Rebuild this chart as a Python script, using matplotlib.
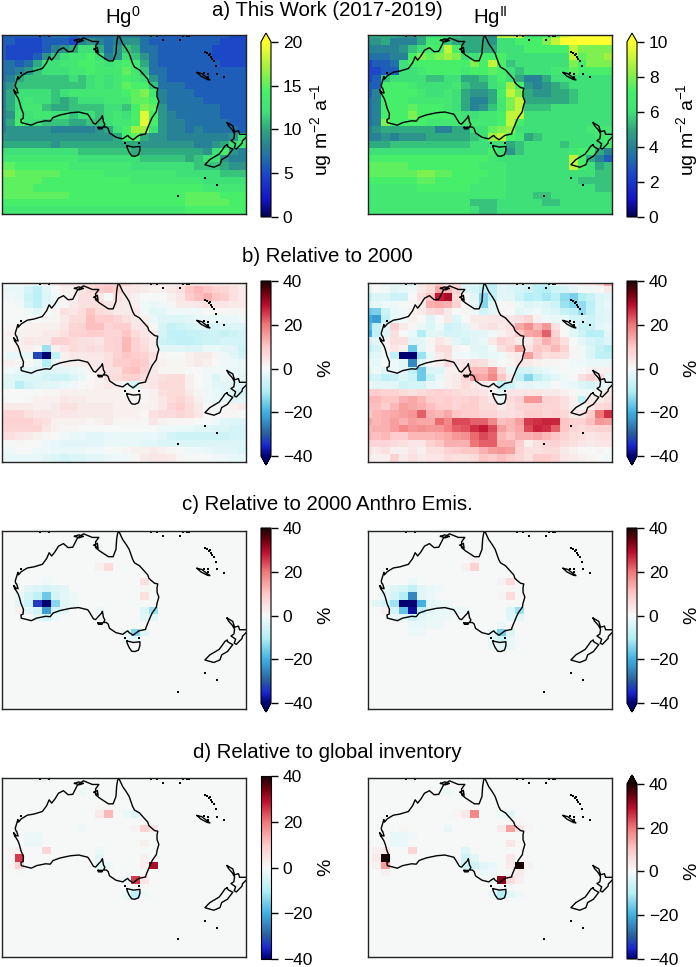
import numpy as np
import matplotlib
matplotlib.use("Agg")
import matplotlib.pyplot as plt
from matplotlib.colors import LinearSegmentedColormap

plt.rcParams['font.family'] = ['Liberation Sans', 'DejaVu Sans']
plt.rcParams['mathtext.fontset'] = 'custom'
plt.rcParams['mathtext.rm'] = 'Liberation Sans'
plt.rcParams['mathtext.default'] = 'regular'

# this work, Hg0 deposition, one row per 2 degree latitude band
hg0_total = [
    [6,6,6,6,6,6,7,7,6,7,7,7,7,8,8,8,7,7,6,6,6,6,6,6,6,6,5,5],
    [6,6,5,5,5,6,6,6,5,8,9,8,7,8,9,9,7,6,6,6,6,6,6,6,6,5,5,5],
    [6,5,5,5,5,6,8,9,10,12,12,10,7,9,11,10,7,7,6,6,6,6,6,6,5,5,5,5],
    [6,5,5,5,6,9,11,12,13,13,14,12,8,9,12,11,9,7,6,6,6,6,6,6,5,5,5,5],
    [7,7,6,7,10,12,12,13,13,14,14,13,12,13,14,13,10,7,6,6,6,6,6,6,6,5,5,5],
    [7,7,8,9,11,12,12,12,13,13,14,13,13,13,15,13,11,7,7,6,6,6,6,6,6,6,6,6],
    [7,8,10,11,11,11,11,11,12,11,12,13,12,13,14,13,12,9,7,6,6,6,6,6,6,6,6,6],
    [8,9,11,11,11,11,11,11,11,11,12,13,12,13,15,14,14,11,7,7,7,6,6,6,6,6,6,6],
    [8,10,12,12,12,12,11,12,13,13,13,13,13,13,14,15,16,13,8,7,7,7,6,6,6,6,6,6],
    [8,10,12,13,12,12,11,10,11,12,12,12,13,13,13,15,15,14,8,7,7,7,7,6,6,6,6,6],
    [8,10,12,13,13,11,10,10,11,11,11,11,12,12,11,14,16,15,9,7,7,7,7,7,7,6,6,6],
    [8,9,13,12,13,13,12,12,11,12,12,11,12,13,12,14,19,14,9,8,7,7,7,7,7,6,6,6],
    [8,10,14,12,12,11,11,11,10,10,11,11,12,13,13,14,19,14,9,8,8,7,7,7,7,7,6,6],
    [8,9,9,9,9,9,8,8,8,8,8,9,10,12,14,17,17,12,9,8,8,7,8,7,7,7,7,6],
    [9,9,9,9,9,9,9,9,9,9,9,9,9,10,14,15,10,9,9,8,8,8,8,8,8,8,9,12],
    [10,10,10,10,10,10,9,10,10,10,10,10,10,10,10,10,9,9,9,9,9,9,8,8,9,10,12,13],
    [12,12,12,12,12,12,12,12,12,11,11,11,11,11,11,10,10,10,10,10,10,10,10,9,12,14,9,8],
    [13,13,13,13,13,13,13,13,13,12,12,12,12,12,12,12,11,11,11,11,11,10,11,12,12,9,8,8],
    [15,15,14,14,14,14,14,14,13,13,13,13,13,13,13,12,12,12,12,12,12,12,11,11,11,10,9,9],
    [16,16,15,15,15,15,15,14,14,14,14,14,13,13,13,13,13,13,13,13,12,12,12,12,12,11,11,11],
    [15,15,15,15,15,14,14,14,14,14,14,14,14,14,14,13,13,13,13,13,13,13,13,12,12,12,12,12],
    [15,15,15,15,14,14,14,14,14,14,14,14,14,14,14,14,14,14,14,14,14,14,14,13,13,13,13,13],
    [15,15,15,15,15,15,15,15,14,14,14,14,14,14,14,14,14,14,14,14,14,15,15,15,15,14,14,14],
    [14,14,14,14,14,14,14,14,14,14,14,14,14,14,14,14,14,14,14,14,14,15,15,15,15,15,14,14],
    [13,13,13,13,13,13,13,13,13,13,13,13,13,13,13,13,13,13,13,13,13,14,14,14,14,14,14,14],
]

hg2_total = [
    [5,5,5,5,4.5,4.5,5,6,6,6,5.5,5,5,5,4.5,9,9,9,6.5,6.5,7,8,9.5,10,10,10,10,10],
    [4.5,4.5,5,4,4,4,5,6.5,6.5,5.5,5,5,5,5,4.5,6,6,7,7,7,8,9,10,10,10,10,10,10],
    [4,4,4,4,4.5,5.5,6,7,7,9,7,5,5,5,5,6,6,6,7,7,7,7,7,9,8,8,8,8],
    [3.5,3.5,3.5,4,4,7,8,7.5,8,8.5,8,6,6,7,7,7,6,6,6,6,6,6,6,9,7.5,8,8,8.5],
    [2.5,3,3,3.5,6,7,7,7,7,7,7,7,8,7,9,7,5.5,6,6,6,6,6,6,8,7,8,8,8],
    [2.5,2.5,3,3,6,6,6.5,7,7,7,7,6.5,7,7,7.5,7,6,5.5,6,6,6,6.5,6.5,7.5,7,7,7,7],
    [2.5,3,5.5,6,6,6,6,5.5,5.5,6,6,5,5,5.5,6,7,6,5,4,4,5,6,6,6,6,6,6,6],
    [3,3,7,7,7,6.5,6,6,6,6,6.5,5.5,5,5,6,6.5,8.5,7,4.5,4,4.5,5,5.5,6,6,6,6,6],
    [3,4,7,7,7,7,6.5,6,6,6.5,6,5,4.5,4.5,5,7,9,8,5,4.5,4.5,5,5,5.5,6,6,6,6],
    [3.5,4,7,7,7,6.5,6.5,6.5,6.5,6.5,6,5,4,4,5,6.5,8,9,5,5,5,5,5,5.5,6,6,6,6],
    [3.5,4,7,7,7,7.5,7,7,7,6.5,6,5,4,4.5,5.5,6.5,8,9,5.5,5.5,5.5,6,6,6,6,6,6,6],
    [3.5,4,7,7,7,8,7,7,7,7,6.5,6,6,6.5,6.5,7,9,9,6,6,6,6,6,6,6,6,6,6],
    [3.5,4,8,7,7,7,7,6.5,6.5,6.5,6.5,6.5,6.5,6.5,6.5,7,9,7,6,6,6,6,6,6,6,6,6,6],
    [4,4.5,5,5,5,5,5,5,4,4,5,5,6,6,7.5,8,8.5,6,6,6,6,6,6,6,6,6.5,6.5,6.5],
    [4,4,4.5,4,4.5,4.5,4.5,5,5,5,5,5,5.5,6,8.5,9,7,6.5,5,5.5,6,6,6,6,6,6,6.5,7],
    [5,5,5,5.5,5.5,5.5,5.5,5.5,5.5,5.5,5.5,5.5,6,6,6,6,5,5.5,6,6,6,6,5.5,6,6,6,6,7],
    [6,6,6,6,6,6,6,6,6,6,6,6,6,6,7,6,4.5,5.5,6,6,6,6,6,6.5,7,7,5,4],
    [7,7,7,7,7,7,7,7,7,7,7,7,7,7,6.5,6,6,6,6,6,6,6,6,9,7,5,4,3],
    [7.5,7.5,7.5,7.5,7.5,7,7,7,7,7,7,7,7,6.5,6.5,6.5,6,6,6,6,6,6,6,9,7,6,5,5.5],
    [7.5,7.5,7.5,7.5,7.5,7.5,8,8,7.5,7.5,7,7,7,7,6.5,6.5,6,6,6,6,6,6,6,6,6,6,5.5,5.5],
    [7,7,7,7,7,7,7.5,7.5,7,7,7,7,7,6.5,6.5,6.5,6,6,6,6,6,6,6,6,5.5,5.5,5.5,5.5],
    [6.5,6.5,6.5,6.5,6.5,6.5,7,7,7,7,7,7,6.5,6.5,6.5,6.5,6,6,6,6,6,6,6,6,6,6,5.5,5.5],
    [6.5,6.5,6.5,6.5,6.5,6.5,6.5,6.5,6.5,6.5,6.5,6.5,6.5,6.5,6.5,6.5,6,6,6,5.5,5.5,6,6,6,6,6,6,6],
    [6.5,6.5,6.5,6.5,6.5,6.5,6.5,6.5,6.5,6.5,6.5,6.5,5.5,5.5,5.5,6,6,6,6,6,5.5,5.5,6,6,6,6,6,6],
    [6.5,6.5,6.5,6.5,6.5,6.5,6.5,6.5,6.5,6.5,6.5,6.5,6,5.5,5.5,6,6,6,6,6,6,6,6,6,6,6,6,6],
]

# change relative to 2000 (%)
hg0_vs_2000 = [
    [0,0,0,0,-1,0,3,5,5,5,5,7,8,8,7,4,3,3,3,3,3,4,4,4,3,3,3,3],
    [-2,-2,-2,-5,-8,-3,0,2,2,4,6,9,10,8,4,4,3,2,2,3,5,10,12,10,8,7,5,3],
    [-1,-1,-2,-6,-9,-4,-1,1,2,5,5,4,0,5,3,2,0,0,0,2,4,9,11,13,10,9,5,3],
    [0,0,-1,-5,-8,-3,-1,1,3,5,5,5,4,4,3,2,-1,-2,-1,1,3,3,4,5,4,4,3,3],
    [0,0,0,-1,-3,0,1,5,4,6,10,6,5,3,3,3,-1,-3,-3,-1,-1,-1,-1,0,1,1,1,1],
    [0,0,0,0,0,1,1,3,6,6,11,9,9,7,5,3,2,-2,-4,-4,-4,-3,-2,-2,-2,-2,-2,-1],
    [0,1,1,2,2,2,2,4,7,8,11,11,7,9,9,4,4,1,-5,-7,-6,-5,-4,-5,-5,-4,-4,-4],
    [1,2,2,2,2,3,3,5,8,8,9,9,7,7,10,6,4,3,-5,-8,-8,-7,-7,-6,-6,-7,-6,-5],
    [1,1,2,4,3,3,8,8,6,5,5,4,7,8,12,8,5,3,-6,-7,-8,-8,-7,-6,-6,-5,-5,-5],
    [1,1,2,2,1,-12,2,4,6,5,6,5,7,8,12,8,6,3,-3,-3,-3,-4,-4,-2,-2,-3,-3,-6],
    [0,-2,-2,-2,-32,-40,-8,2,4,3,4,4,5,8,10,9,8,5,1,0,0,2,3,3,1,-1,-3,-5],
    [2,2,1,0,-2,-10,-2,2,2,2,3,3,5,9,9,10,9,4,2,1,1,2,3,2,0,-1,-1,-2],
    [-1,-1,-2,-3,-3,-4,-3,-3,-2,-1,1,3,5,5,10,11,8,3,1,1,1,0,0,-1,-1,-1,-2,-2],
    [-3,-3,-4,-4,-4,-5,-6,-6,-4,-2,0,2,5,6,8,8,6,4,5,6,6,2,0,-1,-4,-2,-1,-3],
    [-4,-3,-9,-5,-4,-3,-3,-2,-1,0,1,2,3,2,-1,-5,3,4,6,6,6,2,0,-1,-3,-3,-3,-4],
    [0,0,0,0,0,1,1,2,2,2,2,2,2,2,1,1,1,2,5,6,6,3,1,-1,-2,-3,-4,-5],
    [1,0,0,1,2,2,2,4,3,3,2,2,2,2,2,1,1,2,4,6,7,5,2,-1,-2,-2,-3,-3],
    [3,3,3,3,2,2,3,5,5,3,3,3,3,2,2,2,2,2,4,7,9,6,3,0,-1,0,2,3],
    [7,7,7,5,4,4,3,4,4,3,3,3,3,2,2,2,1,5,6,6,7,6,4,0,0,1,1,0],
    [8,8,8,8,6,5,2,2,2,2,1,2,3,1,1,1,1,4,2,1,1,1,0,0,-1,-3,-4,-4],
    [7,7,7,7,7,4,2,1,1,0,0,0,0,0,0,0,0,0,-1,-1,-2,-2,-3,-3,-4,-4,-5,-5],
    [5,5,4,3,2,1,0,-1,-2,-2,-3,-3,-2,-2,-2,-2,-2,-2,-3,-5,-6,-6,-6,-6,-6,-6,-5,-5],
    [0,0,1,0,0,-1,-2,-3,-3,-3,-3,-3,-2,-2,-2,-2,-3,-3,-4,-4,-4,-4,-4,-4,-4,-4,-4,-4],
    [-1,-1,0,0,-1,-1,-2,-2,-2,-2,-1,-1,0,0,1,2,2,3,2,1,0,-1,-1,-2,-3,-3,-3,-4],
    [-2,-2,-2,-2,-2,-3,-4,-5,-4,-4,-3,-3,-2,-1,-1,1,3,4,4,3,1,0,0,0,-1,-1,-2,-2],
]

hg2_vs_2000 = [
    [0,0,-2,-2,-3,-3,3,5,8,5,5,-3,-3,-6,-7,-2,-3,-3,-4,-7,-7,-2,0,0,2,3,5,14],
    [-3,0,-1,-3,-2,-1,3,6,14,12,8,-4,-5,-8,-8,-3,-4,-5,-6,-9,-10,-6,-5,-3,-1,-1,1,3],
    [-7,-4,-4,-6,-6,0,5,10,28,30,6,0,-3,-14,-8,-3,-3,-6,-10,-9,-11,-9,-13,-15,-10,-7,-4,-3],
    [-4,-2,-1,-1,0,1,3,13,14,13,8,0,-2,-14,-3,0,1,-2,-4,-3,-4,-6,-12,-14,-13,-9,-4,-2],
    [-16,-15,-6,-2,-1,2,3,6,7,3,0,1,-1,-5,-3,1,0,-3,-2,-1,-3,-4,-7,-9,-13,-8,-4,-3],
    [-20,-22,-8,-2,-1,2,0,-4,0,3,-4,0,3,3,4,4,4,5,8,2,-1,-2,-2,-5,-5,-6,-4,-3],
    [-18,-8,-3,8,3,1,-2,-4,-1,-6,-5,-3,2,4,5,3,5,14,17,12,16,5,0,-3,-7,-7,-3,-2],
    [-20,-8,-3,5,0,-2,-10,-3,-3,-5,-5,-4,-3,-3,-1,2,4,10,14,15,22,8,0,-3,-6,-10,-9,-3],
    [-5,-3,1,5,5,-3,-3,1,4,2,-3,-5,-3,-2,3,8,6,3,3,8,13,10,5,0,-3,-5,-6,-4],
    [-8,-5,0,4,2,-16,-3,1,6,6,1,0,-3,-3,-1,5,8,15,5,10,9,12,8,1,-1,-4,-7,-10],
    [-4,-3,-1,-8,-40,-40,-12,-2,3,5,-1,-1,-2,-3,-2,-1,2,3,15,9,5,6,5,1,-1,-4,-8,-8],
    [-1,-2,0,-1,-3,-25,-3,0,2,6,3,4,6,5,2,0,1,4,3,2,1,1,0,-1,-1,-2,-2,-2],
    [-3,-1,-3,-1,-3,-8,-16,-4,-4,2,2,5,12,12,16,6,-2,-6,-5,-3,-2,-1,0,0,0,2,2,2],
    [-6,-5,-8,-7,-4,-6,-16,-7,-2,2,3,7,15,14,18,10,3,-8,-14,-9,-5,-3,-1,0,5,8,6,-2],
    [-1,-3,-3,-3,-6,-5,-5,-2,-1,2,3,6,4,3,2,-8,-6,-2,-3,-2,-2,0,-1,-2,-4,-5,-3,-2],
    [9,9,8,8,6,5,6,7,8,7,6,5,5,4,2,-3,4,4,4,4,3,3,2,1,-1,-1,0,3],
    [12,12,10,10,13,14,12,9,8,9,7,8,9,6,4,-2,6,8,16,16,8,7,5,2,-8,3,3,5],
    [11,11,9,12,15,14,13,11,9,9,7,9,9,6,6,3,5,7,8,8,7,7,5,2,1,3,6,7],
    [10,12,13,14,15,16,22,13,12,14,10,9,9,7,7,5,5,6,9,9,7,8,7,3,4,9,20,26],
    [14,12,13,15,13,15,14,14,21,18,24,24,22,22,18,11,12,15,25,26,27,27,10,8,8,11,16,15],
    [12,13,13,15,18,16,17,16,16,19,22,23,26,28,24,15,12,14,24,27,26,22,10,7,6,7,8,8],
    [12,11,12,9,9,12,12,12,13,14,16,17,21,24,22,12,10,13,13,14,12,10,8,6,5,4,5,5],
    [8,7,7,6,5,4,4,8,10,13,13,13,20,22,22,13,13,9,2,5,7,8,6,5,4,3,4,4],
    [5,3,5,2,2,4,2,5,5,8,9,10,10,13,15,16,15,8,5,5,6,6,3,2,0,0,1,0],
    [3,2,2,8,3,5,3,4,4,6,5,5,6,10,9,11,9,7,5,9,9,7,4,3,2,1,0,-1],
]

# panels c and d are flat apart from a few cells: (row, column, percent)
background = 0.0
hg0_anthro = [
    (5,11,2),(5,12,6),(7,16,5),(8,16,1),(9,16,5),(7,5,-1),
    (8,3,-3),(8,4,-4),(8,5,-5),(8,6,-4),(8,7,-3),
    (9,2,-2),(9,3,-5),(9,4,-8),(9,5,-16),(9,6,-5),(9,7,-3),(9,8,-1.5),
    (10,2,-3),(10,3,-6),(10,4,-33),(10,5,-40),(10,6,-14),(10,7,-3),(10,8,-2),
    (11,2,2),(11,3,-3),(11,4,-5),(11,5,-22),(11,6,-5),(11,7,-3),(11,11,-1.5),
    (11,16,-4),(11,17,-12),(12,16,-3),(12,17,-3),
    (12,4,-3),(12,5,-5),(12,6,-2),
    (14,14,-1.5),(14,15,-14),(14,16,-3),(15,14,-2),(15,15,-2),
]
hg2_anthro = [
    (4,12,1.5),(5,11,2),(5,12,8),(7,15,1.5),(7,16,6),(8,16,1),(9,15,1),(9,16,6),(7,5,-2),
    (8,2,-2),(8,3,-4),(8,4,-5),(8,5,-8),(8,6,-3),(8,7,-2),(8,8,-1),
    (9,2,-3),(9,3,-5),(9,4,-10),(9,5,-25),(9,6,-3),(9,7,-2),
    (10,1,-3),(10,2,-5),(10,3,-12),(10,4,-40),(10,5,-40),(10,6,-20),(10,7,-3),(10,8,-2),(10,9,-1.5),
    (11,2,2),(11,3,-5),(11,4,-17),(11,5,-38),(11,6,-8),(11,7,-3),(11,8,-2),(11,9,-2),(11,10,-2),(11,11,-1.5),
    (12,3,-2),(12,4,-2),(12,5,-6),(12,6,-3),(12,7,-2),(12,8,-1.5),(12,9,-1.5),
    (13,5,-2),(13,6,-2),(13,7,-1.5),(13,8,-1.5),(14,5,-1.5),(14,6,-1.5),
    (11,16,-4),(11,17,-12),(12,16,-3),(12,17,-3),
    (13,15,-1.5),(14,14,-2),(14,15,-15),(14,16,-4),
    (15,14,-3),(15,15,-6),(15,16,-2),(16,14,-2),(16,15,-3),(16,16,-2),
]
hg0_inventory = [
    (2,9,-1.5),(4,11,1),(4,12,1),(5,11,3),(5,12,12),(5,14,-1.5),(5,15,-3),
    (7,9,-1),(7,15,1.5),(7,16,8),(7,17,4),(8,3,-1.5),(8,4,-1.5),(9,3,-1.5),(9,4,-1.5),(9,16,2),
    (10,1,1),(10,2,2),(10,5,7),(10,11,-1.5),
    (11,1,1),(11,2,25),(11,11,-3),(11,16,2),
    (12,1,1),(12,2,8),(12,11,-4),(12,12,-2),(12,16,2),(12,17,30),(13,2,1),
    (14,14,-2),(14,15,25),(14,16,4),(16,14,-2),(16,15,-8),(16,16,-1),
]
hg2_inventory = [
    (2,9,-1.5),(4,12,1),(5,10,1),(5,11,3),(5,12,18),(5,15,-1.5),(5,16,-3),
    (6,16,1),(6,17,1),(7,4,1),(7,9,-2),(7,15,3),(7,16,15),(7,17,4),(7,18,1),
    (8,3,-2),(8,4,-2),(8,5,-1),(9,3,-2),(9,4,-2),(9,16,4),
    (10,1,2),(10,2,3),(10,5,7),(10,11,-4),
    (11,1,3),(11,2,45),(11,11,-6),(11,12,-3),(11,16,4),
    (12,1,2),(12,2,15),(12,11,-6),(12,12,-6),(12,13,-3),(12,14,-2),(12,16,3),(12,17,45),(12,18,1.5),
    (13,2,2),(13,13,-2),(13,14,-1.5),(13,16,1),(13,17,3),
    (14,14,-1.5),(14,15,32),(14,16,6),(14,17,2),
    (16,14,-2),(16,15,-10),(16,16,-3),(16,17,-1),
]

# coastlines, lon / lat
australia_lon = [142.5,143.5,144.5,145.3,145.8,146.3,146.8,148.2,149.2,150.5,150.8,151.3,152.4,153.3,153.1,153.1,153.6,153.1,152.9,151.8,151.3,150.8,150.0,149.9,148.0,146.4,145.3,144.9,144.4,143.5,141.6,139.8,139.4,138.9,138.1,138.5,138.1,137.8,137.6,136.9,135.9,135.3,134.2,133.7,131.2,128.9,126.0,124.0,123.2,121.9,119.4,117.9,115.1,115.0,115.6,115.7,115.0,114.6,114.2,113.2,114.2,113.8,113.6,113.4,114.15,114.3,115.1,116.8,118.6,121.0,122.2,122.9,123.6,124.5,125.5,126.9,128.2,129.5,130.8,132.5,135.0,136.8,135.9,135.9,137.0,139.5,140.8,141.6,141.8,142.1,142.5]
australia_lat = [-10.7,-12.8,-14.2,-15.5,-16.9,-18.3,-19.2,-20.0,-21.1,-22.5,-23.4,-23.9,-24.8,-25.0,-26.0,-27.3,-28.6,-30.3,-31.4,-32.9,-33.9,-35.1,-37.0,-37.5,-37.9,-39.1,-38.4,-37.9,-38.2,-38.85,-38.4,-37.2,-36.0,-35.6,-35.6,-34.9,-34.2,-32.5,-33.0,-33.7,-34.8,-34.6,-32.8,-32.1,-31.5,-31.7,-32.3,-33.0,-34.0,-33.9,-34.4,-35.1,-34.4,-33.55,-33.3,-32.0,-30.3,-28.8,-27.7,-26.1,-26.3,-25.0,-24.9,-24.2,-21.8,-22.5,-21.6,-20.6,-20.3,-19.6,-18.0,-16.4,-17.3,-16.2,-14.6,-13.9,-15.0,-14.9,-12.4,-11.2,-12.2,-12.2,-13.4,-15.0,-15.9,-17.5,-17.5,-15.5,-12.6,-10.9,-10.7]
tasmania_lon = [144.7,146.5,148.3,148.3,147.9,146.9,146.0,145.3,144.7,144.7]
tasmania_lat = [-40.7,-41.1,-40.9,-42.0,-43.2,-43.6,-43.5,-42.5,-41.2,-40.7]
nz_south_lon = [172.7,173.0,174.3,172.8,171.2,170.7,169.0,167.5,166.5,167.9,170.5,171.4,172.1,172.7]
nz_south_lat = [-40.5,-41.0,-41.7,-43.6,-44.5,-45.9,-46.6,-46.2,-45.9,-44.5,-43.0,-41.8,-40.8,-40.5]
nz_north_lon = [172.7,174.3,174.8,175.9,176.2,178.0,178.4,177.0,176.9,175.3,174.7,175.1,173.8,174.6,174.8,174.2,173.1,172.7]
nz_north_lat = [-34.4,-35.3,-36.9,-36.6,-37.6,-37.6,-38.0,-39.4,-40.0,-41.6,-41.3,-40.2,-39.3,-38.8,-37.5,-36.4,-35.2,-34.4]
new_caledonia_lon = [164.3,165.6,167.9,167.2,165.4,164.3]
new_caledonia_lat = [-20.7,-21.0,-22.7,-22.6,-21.7,-20.7]
melville_lon = [130.0,131.2,132.5,131.4,130.0]
melville_lat = [-11.9,-11.5,-11.9,-12.3,-11.9]
groote_lon = [135.5,136.4,136.6,135.5]
groote_lat = [-14.3,-13.8,-15.2,-14.3]
kangaroo_lon = [136.6,137.9,137.7,136.7,136.6]
kangaroo_lat = [-35.7,-35.7,-36.1,-36.1,-35.7]
dirk_hartog_lon = [113.0,113.5,113.3,113.0]
dirk_hartog_lat = [-25.5,-26.0,-26.4,-25.5]
small_island_lon = [120.3,122.8,124.0,148.7,151.5,153.0,154.8,159.5,160.5,161.5,162.0,166.6,167.2,167.6,168.0,168.3,168.6,169.0,169.6,166.3,167.3,167.3,171.9,166.6,170.0,159.0,144.2,148.0,115.0,170.0]
small_island_lat = [-10.6,-10.7,-10.4,-10.5,-10.6,-10.7,-11.7,-11.7,-10.6,-10.6,-10.8,-15.0,-15.4,-16.0,-15.6,-16.5,-16.9,-17.6,-18.9,-20.9,-21.0,-21.8,-21.9,-49.6,-51.5,-54.6,-39.9,-40.0,-20.8,-21.0]

lon_edges = 108.35 + 2.5 * np.arange(29)
lat_edges = -9.3 - 2.0 * np.arange(26)
map_lon_lim = (109.7, 178.0)
map_lat_lim = (-59.4, -10.43)

deposition_cmap = LinearSegmentedColormap.from_list("deposition", [
    (0.0, "#00004d"), (0.1, "#1414c8"), (0.25, "#1c48c8"), (0.32, "#1f68b0"),
    (0.42, "#2a8890"), (0.5, "#2fa880"), (0.6, "#40e078"), (0.72, "#48f068"),
    (0.85, "#a0f040"), (1.0, "#ffff30")])
change_cmap = LinearSegmentedColormap.from_list("change", [
    (0.0, "#000070"), (0.06, "#1b27d0"), (0.13, "#2a60a0"), (0.25, "#40b0e0"),
    (0.37, "#b0eef5"), (0.5, "#f6f9f9"), (0.625, "#ffc8c8"), (0.75, "#f07878"),
    (0.86, "#c01030"), (0.93, "#700010"), (1.0, "#1a0505")])

W, H = 699.0, 967.0


def add_box(x0, y0, x1, y1):
    """
    axes from pixel box measured from the top left of the figure
    """
    return fig.add_axes([x0 / W, 1 - y1 / H, (x1 - x0) / W, (y1 - y0) / H])


def sparse_grid(cells):
    """
    flat grid with the listed cells filled in
    :param cells: list of (row, column, value)
    :return: 2d array
    """
    grid = np.full((len(lat_edges) - 1, len(lon_edges) - 1), background)
    for r, c, v in cells:
        grid[r, c] = v
    return grid


def draw_coast(ax):
    for lon, lat in [(australia_lon, australia_lat), (tasmania_lon, tasmania_lat),
                     (nz_south_lon, nz_south_lat), (nz_north_lon, nz_north_lat),
                     (new_caledonia_lon, new_caledonia_lat), (melville_lon, melville_lat),
                     (groote_lon, groote_lat), (kangaroo_lon, kangaroo_lat),
                     (dirk_hartog_lon, dirk_hartog_lat)]:
        ax.plot(lon, lat, color="black", lw=1.0)
    ax.plot(small_island_lon, small_island_lat, ls="none", marker="s", ms=1.6,
            color="black", mew=0)


def draw_panel(box, cbar_box, grid, cmap, vmin, vmax, ticks, extend, label, labelpad):
    ax = add_box(*box)
    mesh = ax.pcolormesh(lon_edges, lat_edges, np.array(grid, dtype=float),
                         cmap=cmap, vmin=vmin, vmax=vmax)
    draw_coast(ax)
    ax.set_xlim(*map_lon_lim)
    ax.set_ylim(*map_lat_lim)
    ax.set_xticks([])
    ax.set_yticks([])
    for s in ax.spines.values():
        s.set_linewidth(1.0)
        s.set_color("#222222")

    cax = add_box(*cbar_box)
    cb = fig.colorbar(mesh, cax=cax, extend=extend, ticks=ticks)
    cb.outline.set_linewidth(0.8)
    cb.ax.tick_params(labelsize=TICK_SIZE, length=5, width=1)
    cb.set_label(label, fontsize=LABEL_SIZE, labelpad=labelpad)


TICK_SIZE = 12.5
LABEL_SIZE = 14
TITLE_SIZE = 14.7

fig = plt.figure(figsize=(W / 100, H / 100), dpi=100)

left_map = (2, 246)
right_map = (368, 612)
left_bar = (261, 271)
right_bar = (627, 637)
rows_y = [(35, 214), (283, 462), (531, 709), (778, 957)]

unit = r"ug m$^{-2}$ a$^{-1}$"
change_ticks = [-40, -20, 0, 20, 40]

draw_panel((left_map[0], rows_y[0][0], left_map[1], rows_y[0][1]), (left_bar[0], 33, left_bar[1], 217),
           hg0_total, deposition_cmap, 0, 20, [0, 5, 10, 15, 20], "max", unit, 4)
draw_panel((right_map[0], rows_y[0][0], right_map[1], rows_y[0][1]), (right_bar[0], 33, right_bar[1], 217),
           hg2_total, deposition_cmap, 0, 10, [0, 2, 4, 6, 8, 10], "max", unit, 4)

draw_panel((left_map[0], rows_y[1][0], left_map[1], rows_y[1][1]), (left_bar[0], 281, left_bar[1], 465),
           hg0_vs_2000, change_cmap, -40, 40, change_ticks, "min", "%", 4)
draw_panel((right_map[0], rows_y[1][0], right_map[1], rows_y[1][1]), (right_bar[0], 281, right_bar[1], 465),
           hg2_vs_2000, change_cmap, -40, 40, change_ticks, "min", "%", 4)

draw_panel((left_map[0], rows_y[2][0], left_map[1], rows_y[2][1]), (left_bar[0], 528, left_bar[1], 712),
           sparse_grid(hg0_anthro), change_cmap, -40, 40, change_ticks, "min", "%", 4)
draw_panel((right_map[0], rows_y[2][0], right_map[1], rows_y[2][1]), (right_bar[0], 528, right_bar[1], 712),
           sparse_grid(hg2_anthro), change_cmap, -40, 40, change_ticks, "min", "%", 4)

draw_panel((left_map[0], rows_y[3][0], left_map[1], rows_y[3][1]), (left_bar[0], 776, left_bar[1], 959),
           sparse_grid(hg0_inventory), change_cmap, -40, 40, change_ticks, "neither", "%", 4)
draw_panel((right_map[0], rows_y[3][0], right_map[1], rows_y[3][1]), (right_bar[0], 775, right_bar[1], 959),
           sparse_grid(hg2_inventory), change_cmap, -40, 40, change_ticks, "max", "%", 4)

titles = ["a) This Work (2017-2019)", "b) Relative to 2000",
          "c) Relative to 2000 Anthro Emis.", "d) Relative to global inventory"]
title_y = [10, 257, 504, 752]
for t, y in zip(titles, title_y):
    fig.text(327 / W, 1 - y / H, t, ha="center", va="center", fontsize=TITLE_SIZE)

fig.text(123 / W, 1 - 17 / H, r"Hg$^{0}$", ha="center", va="center", fontsize=TITLE_SIZE)
fig.text(490 / W, 1 - 17 / H, r"Hg$^{II}$", ha="center", va="center", fontsize=TITLE_SIZE)

fig.savefig("out.png", dpi=100)
